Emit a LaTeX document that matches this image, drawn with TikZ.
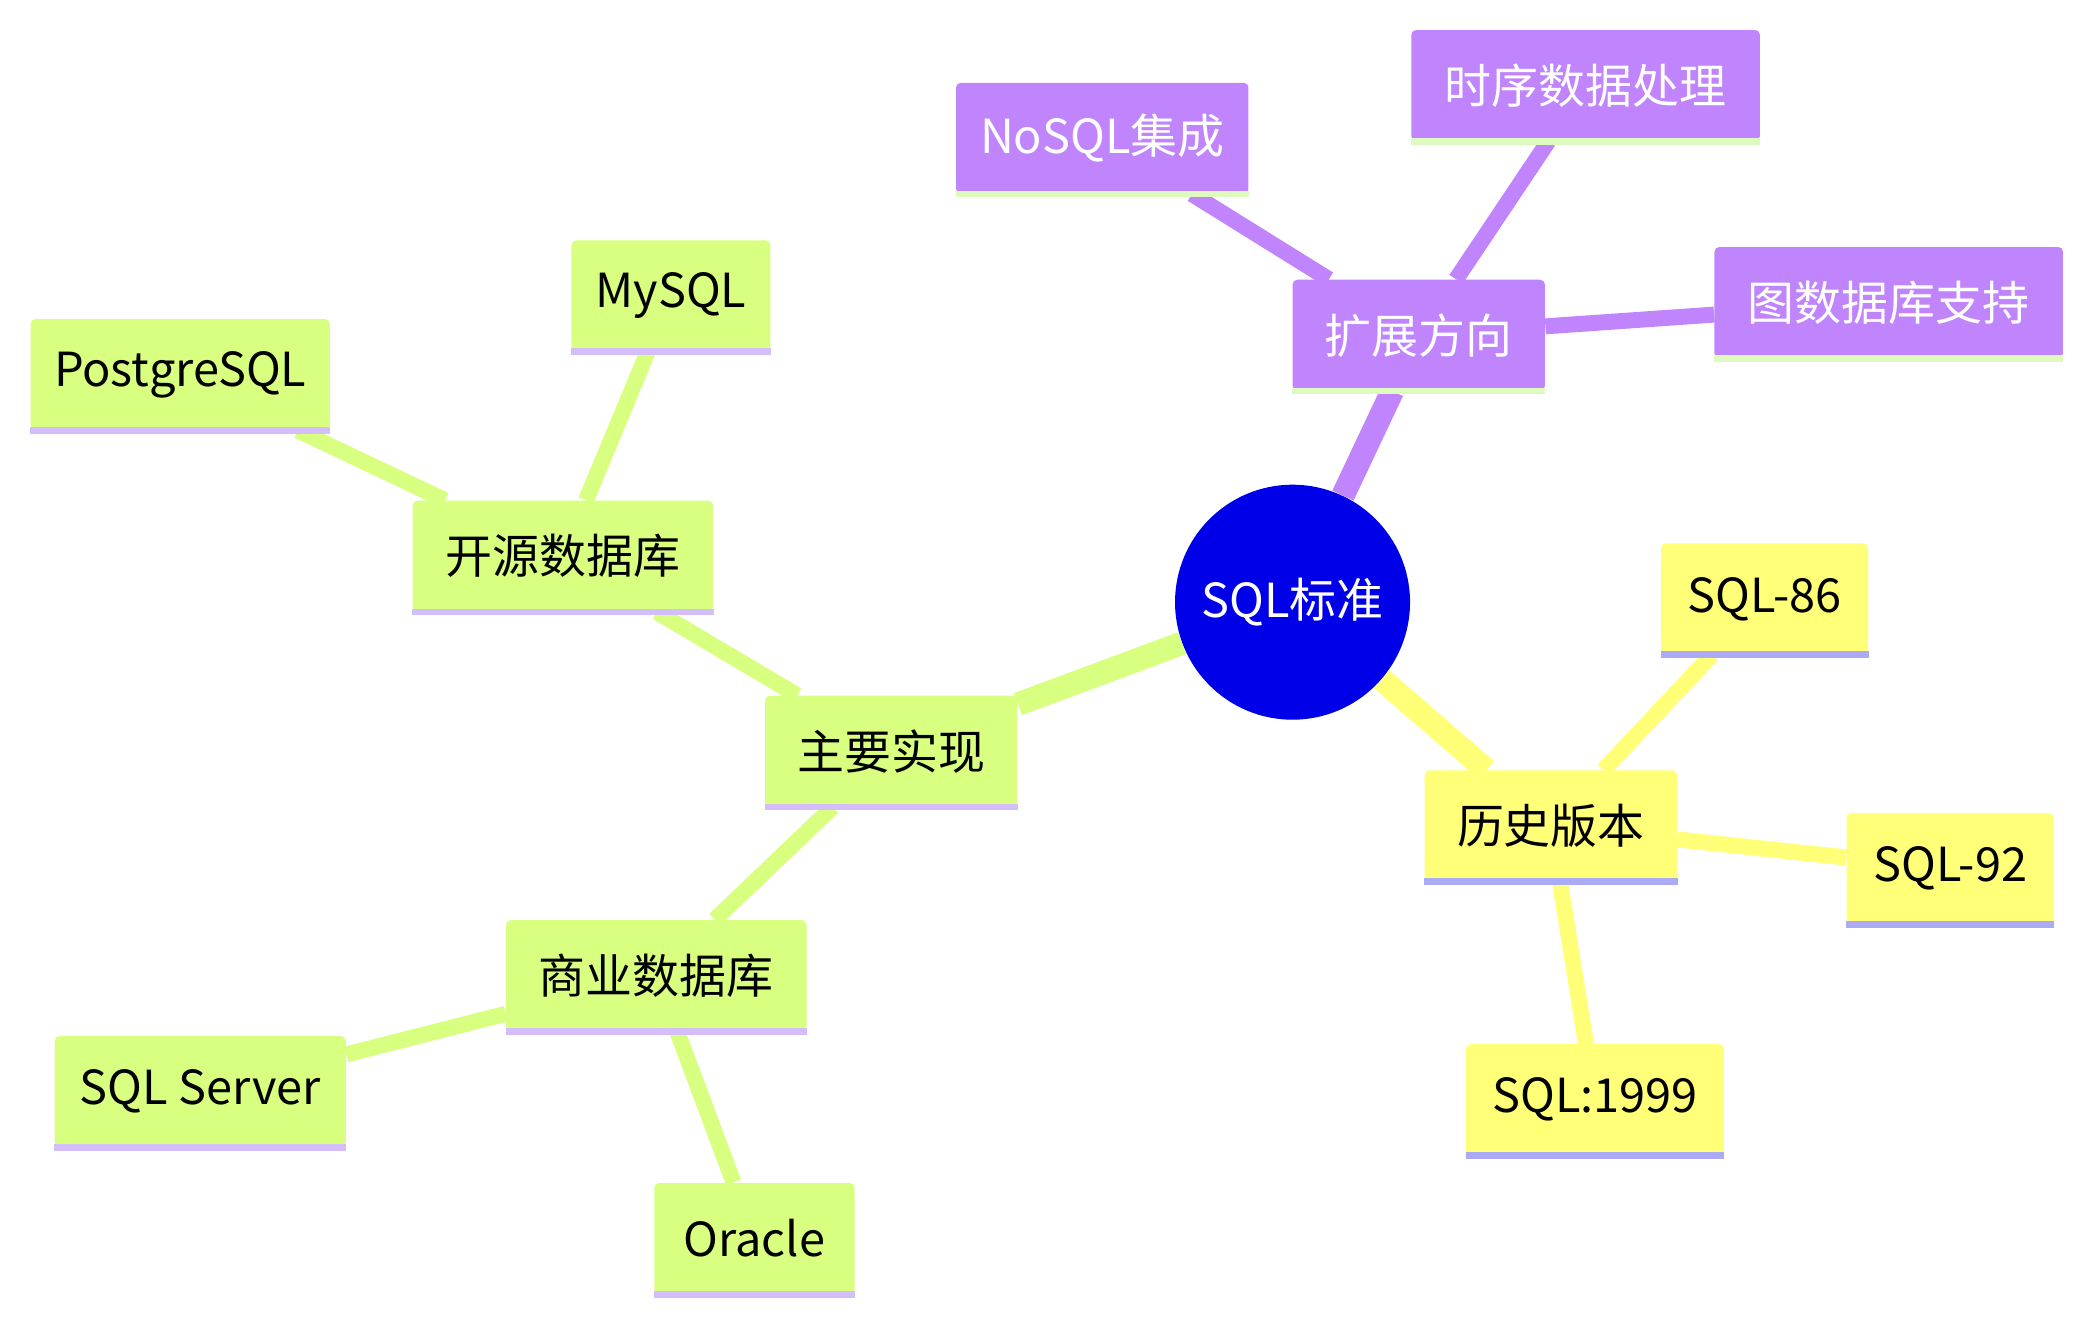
\documentclass[tikz,border=0pt]{standalone}
\usepackage{fontspec}
\setmainfont{Noto Sans CJK SC}
\usetikzlibrary{backgrounds}
\definecolor{extfill}{RGB}{192,132,252}
\definecolor{extline}{RGB}{222,250,190}
\definecolor{histfill}{RGB}{255,255,120}
\definecolor{histline}{RGB}{170,170,245}
\definecolor{implfill}{RGB}{217,255,128}
\definecolor{implline}{RGB}{212,190,250}
\definecolor{rootfill}{RGB}{0,0,232}
\tikzset{
  box/.style={rectangle, rounded corners=2pt, minimum height=1.66cm, inner sep=0pt},
  extbox/.style={box, fill=extfill, text=white},
  histbox/.style={box, fill=histfill},
  implbox/.style={box, fill=implfill},
  trunk/.style={line width=10pt},
  twig/.style={line width=6.8pt}
}
\begin{document}
\begin{tikzpicture}[font=\fontsize{20}{24}\selectfont]
  \useasboundingbox (0,0) rectangle (31.2,-19.74);
  %%% root %%%
  \node[circle, fill=rootfill, text=white, minimum size=3.52cm, inner sep=0pt] (root) at (19.36,-9.02) {SQL标准};
  %%% extension branch %%%
  \node[extbox, minimum width=3.78cm] (ext) at (21.25,-5.02) {扩展方向};
  \node[extbox, minimum width=4.38cm] (nosql) at (16.51,-2.07) {NoSQL集成};
  \node[extbox, minimum width=5.22cm] (ts) at (23.75,-1.28) {时序数据处理};
  \node[extbox, minimum width=5.22cm] (graph) at (28.29,-4.53) {图数据库支持};
  %%% history branch %%%
  \node[histbox, minimum width=3.78cm] (hist) at (23.23,-12.37) {历史版本};
  \node[histbox, minimum width=3.10cm] (s86) at (26.43,-8.97) {SQL-86};
  \node[histbox, minimum width=3.10cm] (s92) at (29.21,-13.01) {SQL-92};
  \node[histbox, minimum width=3.86cm] (s99) at (23.89,-16.47) {SQL:1999};
  %%% implementation branch %%%
  \node[implbox, minimum width=3.78cm] (impl) at (13.35,-11.25) {主要实现};
  \node[implbox, minimum width=4.50cm] (open) at (8.43,-8.33) {开源数据库};
  \node[implbox, minimum width=4.48cm] (pg) at (2.70,-5.61) {PostgreSQL};
  \node[implbox, minimum width=2.98cm] (my) at (10.05,-4.43) {MySQL};
  \node[implbox, minimum width=4.50cm] (com) at (9.83,-14.61) {商业数据库};
  \node[implbox, minimum width=4.36cm] (ss) at (3.00,-16.35) {SQL Server};
  \node[implbox, minimum width=3.00cm] (ora) at (11.30,-18.55) {Oracle};
  % bottom borders
  \foreach \n in {ext,nosql,ts,graph}
    \draw[extline, line width=2.8pt] (\n.south west) -- (\n.south east);
  \foreach \n in {hist,s86,s92,s99}
    \draw[histline, line width=2.8pt] (\n.south west) -- (\n.south east);
  \foreach \n in {impl,open,pg,my,com,ss,ora}
    \draw[implline, line width=2.8pt] (\n.south west) -- (\n.south east);
  %%% connectors %%%
  \begin{scope}[on background layer]
    \draw[trunk, extfill] (root) -- (ext);
    \draw[trunk, histfill] (root) -- (hist);
    \draw[trunk, implfill] (root) -- (impl);
    \foreach \n in {nosql,ts,graph}
      \draw[twig, extfill] (ext) -- (\n);
    \foreach \n in {s86,s92,s99}
      \draw[twig, histfill] (hist) -- (\n);
    \foreach \n in {open,com}
      \draw[twig, implfill] (impl) -- (\n);
    \foreach \n in {pg,my}
      \draw[twig, implfill] (open) -- (\n);
    \foreach \n in {ss,ora}
      \draw[twig, implfill] (com) -- (\n);
  \end{scope}
\end{tikzpicture}
\end{document}
